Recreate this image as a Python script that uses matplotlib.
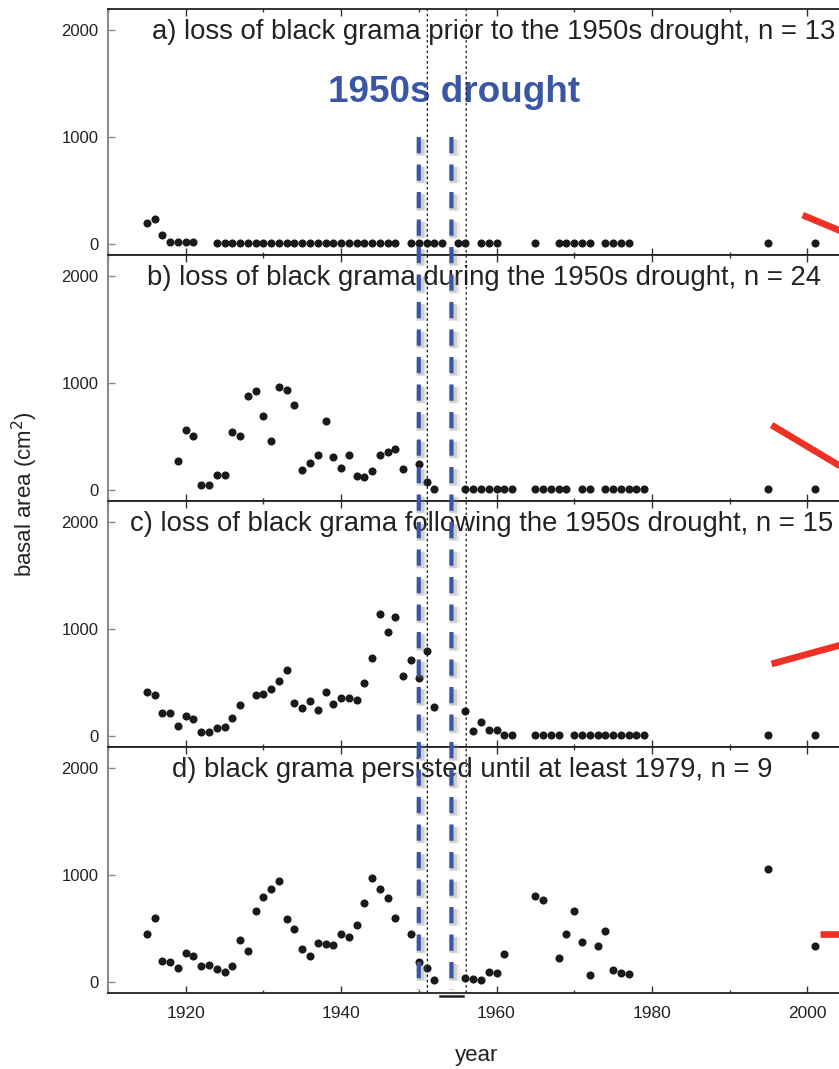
import matplotlib
matplotlib.use('Agg')
import matplotlib.pyplot as plt
from matplotlib.patches import ConnectionPatch
import matplotlib.patheffects as pe
from matplotlib.ticker import MultipleLocator

plt.rcParams['font.family'] = ['Liberation Sans', 'DejaVu Sans']

# ---------------- data ----------------
years_a = [1915, 1916, 1917, 1918, 1919, 1920, 1921,
           1924, 1925, 1926, 1927, 1928, 1929, 1930, 1931, 1932, 1933, 1934, 1935,
           1936, 1937, 1938, 1939, 1940, 1941, 1942, 1943, 1944, 1945, 1946, 1947,
           1949, 1950, 1951, 1952, 1953, 1955, 1956, 1958, 1959, 1960, 1965,
           1968, 1969, 1970, 1971, 1972, 1974, 1975, 1976, 1977, 1995, 2001]
vals_a = [199, 231, 81, 15, 15, 15, 15,
          10, 10, 10, 10, 10, 10, 10, 10, 10, 10, 10, 10,
          10, 10, 10, 10, 10, 10, 10, 10, 10, 10, 10, 10,
          10, 10, 10, 10, 10, 10, 10, 10, 10, 10, 10,
          10, 10, 10, 10, 10, 10, 10, 10, 10, 10, 10]

years_b = [1919, 1920, 1921, 1922, 1923, 1924, 1925, 1926, 1927, 1928,
           1929, 1930, 1931, 1932, 1933, 1934, 1935, 1936, 1937, 1938,
           1939, 1940, 1941, 1942, 1943, 1944, 1945, 1946, 1947, 1948,
           1950, 1951, 1952,
           1956, 1957, 1958, 1959, 1960, 1961, 1962,
           1965, 1966, 1967, 1968, 1969, 1971, 1972,
           1974, 1975, 1976, 1977, 1978, 1979, 1995, 2001]
vals_b = [275, 562, 509, 44, 44, 137, 144, 541, 509, 875,
          925, 687, 459, 962, 931, 794, 187, 256, 331, 644,
          312, 203, 328, 131, 119, 181, 331, 359, 387, 197,
          241, 72, 10,
          10, 10, 10, 10, 10, 10, 10,
          10, 10, 10, 10, 10, 10, 10,
          10, 10, 10, 10, 10, 10, 10, 10]

years_c = [1915, 1916, 1917, 1918, 1919, 1920, 1921, 1922, 1923, 1924, 1925, 1926, 1927,
           1929, 1930, 1931, 1932, 1933, 1934, 1935, 1936, 1937, 1938, 1939, 1940,
           1941, 1942, 1943, 1944, 1945, 1946, 1947, 1948, 1949, 1950, 1951, 1952,
           1956, 1957, 1958, 1959, 1960, 1961, 1962,
           1965, 1966, 1967, 1968,
           1970, 1971, 1972, 1973, 1974, 1975, 1976, 1977, 1978, 1979, 1995, 2001]
vals_c = [411, 380, 212, 212, 90, 187, 159, 40, 40, 72, 84, 168, 290,
          383, 392, 442, 511, 620, 308, 259, 330, 243, 414, 299, 352,
          352, 333, 495, 729, 1137, 969, 1112, 564, 710, 539, 791, 268,
          234, 47, 134, 56, 56, 10, 10,
          10, 10, 10, 10,
          10, 10, 10, 10, 10, 10, 10, 10, 10, 10, 10, 10]

years_d = [1915, 1916, 1917, 1918, 1919, 1920, 1921, 1922, 1923, 1924, 1925,
           1926, 1927, 1928, 1929, 1930, 1931, 1932, 1933, 1934, 1935, 1936,
           1937, 1938, 1939, 1940, 1941, 1942, 1943, 1944, 1945, 1946, 1947,
           1949, 1950, 1951, 1952,
           1956, 1957, 1958, 1959, 1960, 1961,
           1965, 1966,
           1968, 1969, 1970, 1971, 1972, 1973, 1974, 1975, 1976, 1977,
           1995, 2001]
vals_d = [450, 594, 194, 188, 128, 272, 244, 153, 163, 122, 97,
          153, 394, 294, 666, 797, 872, 947, 591, 497, 312, 241,
          366, 353, 350, 444, 419, 534, 741, 969, 872, 781, 600,
          444, 184, 134, 16,
          34, 28, 22, 94, 84, 266,
          800, 762,
          225, 453, 662, 369, 66, 334, 472, 116, 88, 78,
          1056, 338]

titles = ["a) loss of black grama prior to the 1950s drought, n = 13",
          "b) loss of black grama during the 1950s drought, n = 24",
          "c) loss of black grama following the 1950s drought, n = 15",
          "d) black grama persisted until at least 1979, n = 9"]
title_x = [1915.6, 1915.0, 1912.8, 1918.2]

# red trend segments (x start/end, y start/end), running off the right edge
red_x = [[1999.4, 2005.0], [1995.4, 2005.0], [1995.4, 2005.0], [2001.6, 2005.0]]
red_y = [[270, 100], [607, 190], [673, 864], [449, 449]]

drought_marks = [1950, 1954.2]     # blue dashed lines
drought_bounds = [1951.1, 1956.1]  # dotted lines

# ---------------- figure ----------------
W, H = 839, 1069
fig = plt.figure(figsize=(W / 100, H / 100), dpi=100)

left = 108 / W
width = 777 / W          # axes extends beyond the right edge (cut off)
tops_px = [9, 255, 501, 747]
ph = 246
axes = []
all_years = [years_a, years_b, years_c, years_d]
all_vals = [vals_a, vals_b, vals_c, vals_d]
xlim = (1910, 2010)
ylim = (-103, 2196)
gray = '#8a8a8a'

for i in range(4):
    bottom = (H - tops_px[i] - ph) / H
    ax = fig.add_axes([left, bottom, width, ph / H])
    axes.append(ax)
    ax.set_xlim(*xlim)
    ax.set_ylim(*ylim)
    ax.scatter(all_years[i], all_vals[i], s=34, color='#1a1a1a', zorder=5,
               linewidths=0)
    ax.plot(red_x[i], red_y[i], color='#ee3124', lw=4.8, solid_capstyle='butt',
            zorder=6)
    ax.text(title_x[i], 1985, titles[i], fontsize=19.8, ha='left', va='center',
            color='#222222', zorder=7)
    ax.xaxis.set_major_locator(MultipleLocator(20))
    ax.xaxis.set_minor_locator(MultipleLocator(10))
    ax.set_yticks([0, 1000, 2000])
    ax.tick_params(axis='x', which='major', direction='in', top=True, length=5,
                   width=1, color='#333333', labelsize=12.5, pad=9,
                   labelcolor='#222222')
    ax.tick_params(axis='x', which='minor', direction='in', top=True, length=2.5,
                   width=1, color='#333333')
    ax.tick_params(axis='y', direction='in', length=5, width=1, color=gray,
                   labelsize=12, pad=7, labelcolor='#222222')
    for side in ['top', 'bottom', 'right']:
        ax.spines[side].set_color('#222222')
        ax.spines[side].set_linewidth(1.3)
    ax.spines['left'].set_color(gray)
    ax.spines['left'].set_linewidth(1.5)
    if i < 3:
        ax.tick_params(axis='x', labelbottom=False)

ax_a, ax_d = axes[0], axes[3]
ax_a.text(1954.6, 1420, "1950s drought", fontsize=26.6, fontweight='bold',
          color='#3a55a4', ha='center', va='center', zorder=7)

# dotted boundaries of the drought, through all panels
for xb in drought_bounds:
    cp = ConnectionPatch(xyA=(xb, ylim[1]), coordsA=ax_a.transData,
                         xyB=(xb, ylim[0]), coordsB=ax_d.transData,
                         color='#111111', lw=0.9, linestyle=(0, (1.3, 2.9)),
                         zorder=8)
    fig.add_artist(cp)

# blue dashed lines with soft shadow
for xm in drought_marks:
    cp = ConnectionPatch(xyA=(xm, 1000), coordsA=ax_a.transData,
                         xyB=(xm, ylim[0] + 30), coordsB=ax_d.transData,
                         color='#3a55a4', lw=3.0, linestyle=(0, (3.9, 2.7)),
                         capstyle='butt', zorder=9)
    cp.set_path_effects([
        pe.SimpleLineShadow(offset=(2.0, -2.0), shadow_color='#7a7a7a',
                            alpha=0.15, linewidth=8),
        pe.SimpleLineShadow(offset=(1.5, -1.5), shadow_color='#7a7a7a',
                            alpha=0.25, linewidth=5),
        pe.Normal()])
    fig.add_artist(cp)

# dark bar under the bottom axis near the drought
ax_d.plot([1952.7, 1955.7], [ylim[0] - 25, ylim[0] - 25], color='#222222',
          lw=1.8, clip_on=False, zorder=10)

fig.text(25 / W, 1 - 494 / H, "basal area (cm$^2$)", rotation=90,
         ha='center', va='center', fontsize=16, color='#222222')
fig.text(477 / W, 1 - 1061 / H, "year", ha='center', va='baseline',
         fontsize=16, color='#222222')

fig.savefig('out.png', dpi=100)
